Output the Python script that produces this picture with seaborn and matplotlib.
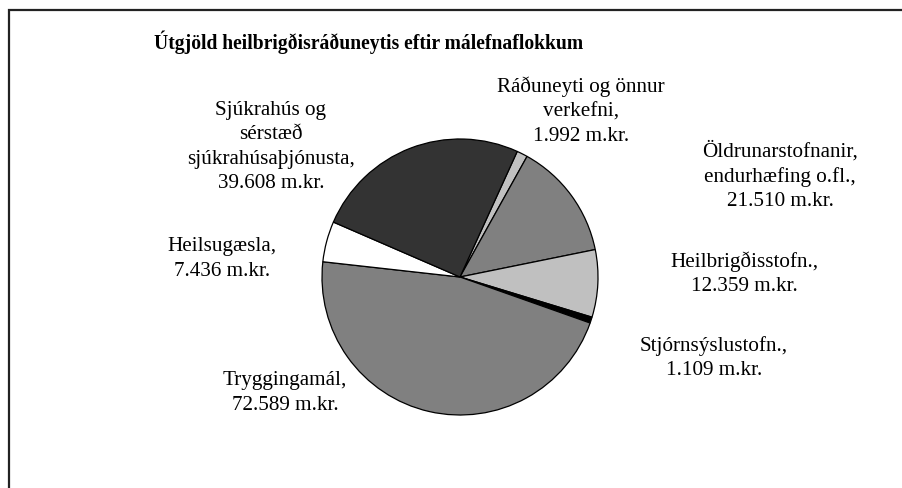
import matplotlib
matplotlib.use("Agg")
import matplotlib.pyplot as plt
import seaborn as sns
from matplotlib.patches import Rectangle

# flokkar, röðun réttsælis frá toppi
categories = [
    "Ráðuneyti og önnur\nverkefni,",
    "Öldrunarstofnanir,\nendurhæfing o.fl.,",
    "Heilbrigðisstofn.,",
    "Stjórnsýslustofn.,",
    "Tryggingamál,",
    "Heilsugæsla,",
    "Sjúkrahús og\nsérstæð\nsjúkrahúsaþjónusta,",
]
values = [1992, 21510, 12359, 1109, 72589, 7436, 39608]  # m.kr.
slice_colors = ["#c0c0c0", "#808080", "#c0c0c0", "#000000", "#808080", "#ffffff", "#333333"]
title = "Útgjöld heilbrigðisráðuneytis eftir málefnaflokkum"

# staðsetning merkja í pixlum (x, y frá toppi)
label_pos = [(581, 111), (780, 176), (744, 274), (714, 358), (285, 393), (222, 259), (271, 147)]

sns.set_theme(style="white")
plt.rcParams["font.family"] = ["Liberation Serif", "DejaVu Serif"]

W, H = 903, 488
fig = plt.figure(figsize=(W / 100, H / 100), dpi=100)
ax = fig.add_axes([0, 0, 1, 1])

ax.pie(
    values,
    colors=slice_colors,
    startangle=65.5,
    counterclock=False,
    center=(460, H - 277),
    radius=138,
    wedgeprops={"edgecolor": "black", "linewidth": 0.9},
    frame=True,
)
ax.set_xlim(0, W)
ax.set_ylim(0, H)
ax.set_aspect("equal")
ax.axis("off")

def fmt(v):
    return f"{v:,}".replace(",", ".") + " m.kr."

for cat, v, (x, y) in zip(categories, values, label_pos):
    ax.text(x, H - y, cat + "\n" + fmt(v), ha="center", va="center",
            fontsize=15.2, linespacing=1.38, color="black")

ax.text(369, H - 42, title, ha="center", va="center", fontsize=14.1,
        fontweight="bold", color="black")

fig.patches.append(Rectangle((9 / W, -0.1), 2, 1 - 10 / H + 0.1, transform=fig.transFigure,
                             fill=False, edgecolor="#222222", linewidth=1.6))

fig.savefig("out.png", dpi=100)
